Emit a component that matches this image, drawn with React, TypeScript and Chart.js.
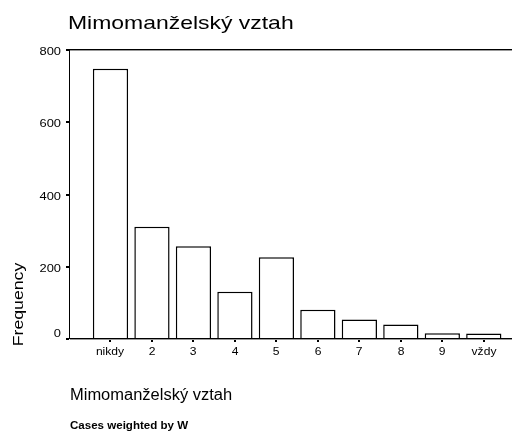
import React, { useEffect, useRef } from 'react';
import { Chart, registerables } from 'chart.js';

Chart.register(...registerables);

const chartTitle = 'Mimomanželský vztah';
const xAxisTitle = 'Mimomanželský vztah';
const yAxisTitle = 'Frequency';
const footnote = 'Cases weighted by W';
const categories = ['nikdy', '2', '3', '4', '5', '6', '7', '8', '9', 'vždy'];
const frequencies = [748, 311, 257, 131, 226, 81, 54, 40, 16, 15];
const yTickValues = [0, 200, 400, 600, 800];

const FONT = '"Liberation Sans", Arial, sans-serif';

function drawStretched(
  ctx: CanvasRenderingContext2D,
  text: string,
  x: number,
  y: number,
  font: string,
  sx: number,
  align: 'left' | 'center' | 'right',
  rotate = 0
) {
  ctx.save();
  ctx.font = font;
  ctx.textAlign = 'left';
  ctx.textBaseline = 'alphabetic';
  ctx.fillStyle = '#000';
  const w = ctx.measureText(text).width * sx;
  const off = align === 'center' ? -w / 2 : align === 'right' ? -w : 0;
  ctx.translate(x, y);
  if (rotate) ctx.rotate(rotate);
  ctx.translate(off, 0);
  ctx.scale(sx, 1);
  ctx.fillText(text, 0, 0);
  ctx.restore();
}

const framePlugin = {
  id: 'spssFrame',
  afterDraw(chart: any) {
    const ctx: CanvasRenderingContext2D = chart.ctx;
    const { left, top, right, bottom } = chart.chartArea;
    const xs = chart.scales.x;
    const ys = chart.scales.y;
    ctx.save();
    // frame lines
    ctx.fillStyle = '#000';
    ctx.fillRect(left - 3, top - 1, right - left + 3, 1);
    ctx.fillStyle = '#999';
    ctx.fillRect(left, top, right - left, 1);
    ctx.fillStyle = '#000';
    ctx.fillRect(left, top - 1, 1, bottom - top + 1);
    ctx.fillRect(left - 2, bottom - 1, right - left + 2, 1);
    ctx.fillStyle = '#999';
    ctx.fillRect(left + 1, bottom, right - left, 1);
    // y ticks
    yTickValues.forEach((v) => {
      const py = Math.round(ys.getPixelForValue(v));
      ctx.fillStyle = '#000';
      ctx.fillRect(left - 3, py - 1, 3, 2);
      const by = Math.min(py + 5, bottom - 2);
      drawStretched(ctx, String(v), left - 8, by, `11px ${FONT}`, 1.17, 'right');
    });
    // x ticks
    categories.forEach((c, i) => {
      const px = Math.round(xs.getPixelForValue(i + 1));
      ctx.fillStyle = '#000';
      ctx.fillRect(px - 1, bottom + 1, 2, 2);
      drawStretched(ctx, c, px, bottom + 15.5, `11px ${FONT}`, 1.1, 'center');
    });
    // titles
    drawStretched(ctx, chartTitle, left - 1, 28.5, `18.5px ${FONT}`, 1.24, 'left');
    drawStretched(ctx, xAxisTitle, left + 1, 400, `16px ${FONT}`, 1.03, 'left');
    drawStretched(ctx, yAxisTitle, 23, (top + bottom) / 2 + 110, `14.5px ${FONT}`, 1.22, 'center', -Math.PI / 2);
    drawStretched(ctx, footnote, left + 1, 428.5, `bold 11px ${FONT}`, 1.05, 'left');
    ctx.restore();
  },
};

export default function App() {
  const canvasRef = useRef<HTMLCanvasElement | null>(null);

  useEffect(() => {
    if (!canvasRef.current) return;
    const chart = new Chart(canvasRef.current, {
      type: 'bar',
      data: {
        datasets: [
          {
            label: yAxisTitle,
            data: frequencies.map((v, i) => ({ x: i + 1, y: v })),
            backgroundColor: '#ffffff',
            borderColor: '#000000',
            borderWidth: 1.5,
            borderSkipped: 'bottom',
            categoryPercentage: 0.85,
            barPercentage: 1,
          },
        ],
      },
      options: {
        animation: false,
        responsive: true,
        maintainAspectRatio: false,
        layout: { padding: { left: 69, top: 50, right: 0, bottom: 93 } },
        plugins: { legend: { display: false }, tooltip: { enabled: false }, title: { display: false } },
        scales: {
          x: { type: 'linear', display: false, min: 0, max: 10.68, offset: false },
          y: { type: 'linear', display: false, min: 0, max: 800 },
        },
      },
      plugins: [framePlugin],
    });
    return () => chart.destroy();
  }, []);

  return (
    <div style={{ position: 'absolute', left: 0, top: 0, width: 512, height: 432, background: '#fff' }}>
      <canvas ref={canvasRef} />
    </div>
  );
}
